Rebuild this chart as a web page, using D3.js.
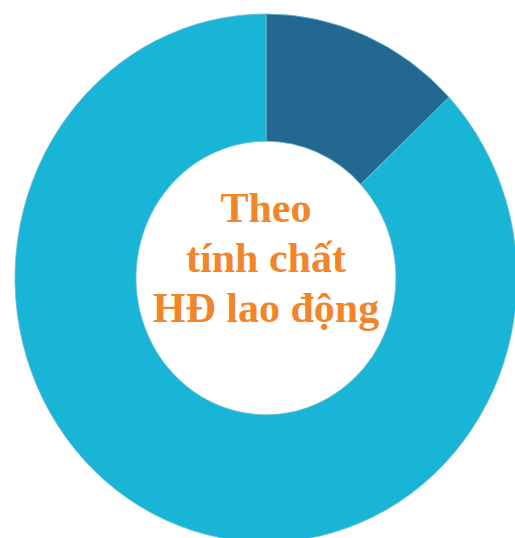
<!DOCTYPE html>
<html>
<head>
<meta charset="utf-8">
<script src="https://cdn.jsdelivr.net/npm/d3@7"></script>
<style>
  html, body { margin: 0; padding: 0; background: #fff; }
  svg { display: block; }
</style>
</head>
<body>
<svg id="chart" width="515" height="538"></svg>
<script>
// Share of labour contracts by nature (two groups)
const categories = ["Nhóm 1", "Nhóm 2"];
const values = [13, 87];
const colors = ["#236891", "#19b5d6"];
const titleLines = ["Theo", "tính chất", "HĐ lao động"];

const svg = d3.select("#chart");
const cx = 266, cy = 278;
const outerR = 251, innerR = 130;
const yStretch = 1.052;

const pie = d3.pie().sort(null).value(d => d.value);
const arc = d3.arc().innerRadius(innerR).outerRadius(outerR);
const color = d3.scaleOrdinal().domain(categories).range(colors);

const data = categories.map((c, i) => ({ category: c, value: values[i] }));

const g = svg.append("g")
  .attr("transform", `translate(${cx},${cy}) scale(1,${yStretch})`);

g.selectAll("path")
  .data(pie(data))
  .join("path")
  .attr("d", arc)
  .attr("fill", d => color(d.data.category))
  .attr("stroke", "#6fbcd6")
  .attr("stroke-width", 0.8);

const label = svg.append("g")
  .attr("transform", `translate(${cx},0)`);

const baselines = [222, 272, 322];
label.selectAll("text")
  .data(titleLines)
  .join("text")
  .attr("x", 0)
  .attr("y", (d, i) => baselines[i])
  .attr("text-anchor", "middle")
  .attr("font-family", "'Liberation Serif', 'DejaVu Serif', serif")
  .attr("font-weight", "bold")
  .attr("font-size", 42)
  .attr("fill", "#f2852a")
  .text(d => d);
</script>
</body>
</html>
